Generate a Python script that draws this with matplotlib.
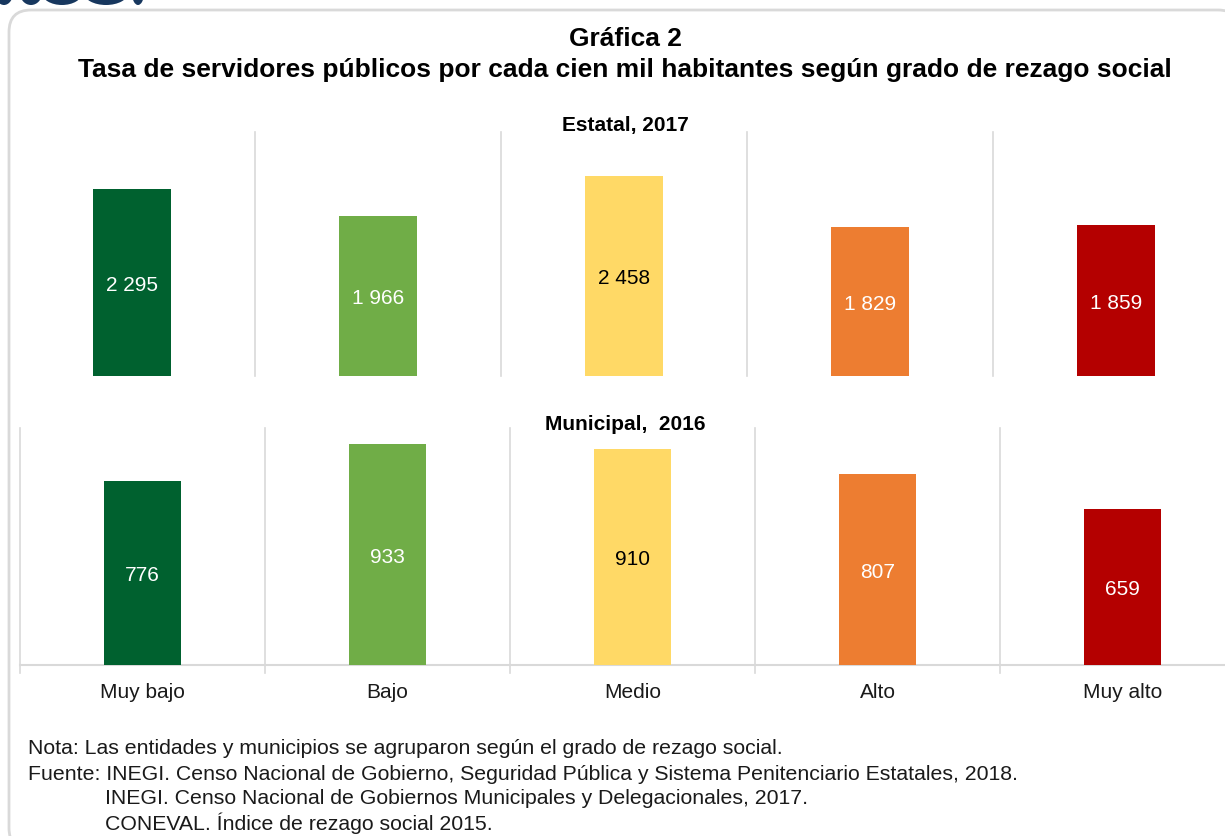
import numpy as np
import matplotlib.pyplot as plt
from matplotlib.patches import FancyBboxPatch, Ellipse

categorias = ['Muy bajo', 'Bajo', 'Medio', 'Alto', 'Muy alto']
estatal_2017 = [2295, 1966, 2458, 1829, 1859]
municipal_2016 = [776, 933, 910, 807, 659]
etiquetas_estatal = ['2 295', '1 966', '2 458', '1 829', '1 859']
etiquetas_municipal = ['776', '933', '910', '807', '659']

colores = ['#00612F', '#70AD47', '#FFD966', '#ED7D31', '#B40000']
color_texto = ['white', 'white', 'black', 'white', 'white']

W, H = 1225, 836
plt.rcParams.update({
    'font.family': ['Liberation Sans', 'DejaVu Sans'],
    'figure.dpi': 100,
})

fig = plt.figure(figsize=(W / 100, H / 100), dpi=100)

# capa de fondo en pixeles (marco, titulos, notas)
bg = fig.add_axes([0, 0, 1, 1], zorder=-1)
bg.set_xlim(0, W)
bg.set_ylim(H, 0)
bg.axis('off')

marco = FancyBboxPatch((9, 10), 1231, 840,
                       boxstyle='round,pad=0,rounding_size=22',
                       facecolor='white', edgecolor='#d9d9d9', linewidth=2)
bg.add_patch(marco)

# resto del logo cortado arriba a la izquierda
for cx, ancho in [(4, 18), (31, 22), (62, 40), (106, 44), (138, 12)]:
    bg.add_patch(Ellipse((cx, -7), ancho, 24, facecolor='#17375E', edgecolor='none'))

bg.text(625, 39, 'Gráfica 2', fontsize=19, fontweight='bold', ha='center', va='center')
bg.text(625, 70, 'Tasa de servidores públicos por cada cien mil habitantes según grado de rezago social',
        fontsize=19, fontweight='bold', ha='center', va='center')
bg.text(625, 126, 'Estatal, 2017', fontsize=15, fontweight='bold', ha='center', va='center')
bg.text(625, 425, 'Municipal,  2016', fontsize=15, fontweight='bold', ha='center', va='center')

notas = [
    (28, 749, 'Nota: Las entidades y municipios se agruparon según el grado de rezago social.'),
    (28, 775, 'Fuente: INEGI. Censo Nacional de Gobierno, Seguridad Pública y Sistema Penitenciario Estatales, 2018.'),
    (105, 799, 'INEGI. Censo Nacional de Gobiernos Municipales y Delegacionales, 2017.'),
    (105, 823, 'CONEVAL. Índice de rezago social 2015.'),
]
for x, y, t in notas:
    bg.text(x, y, t, fontsize=15.3, ha='left', va='center', color='#1a1a1a')


def panel(rect, valores, etiquetas, ymax, eje):
    ax = fig.add_axes(rect)
    ax.patch.set_alpha(0)
    x = np.arange(len(categorias))
    ax.bar(x, valores, width=0.315, color=colores, zorder=3)
    for xi, v, e, c in zip(x, valores, etiquetas, color_texto):
        ax.annotate(e, (xi, v / 2), xytext=(0, -2), textcoords='offset points',
                    ha='center', va='center', color=c, fontsize=15, zorder=4)
    for b in np.arange(-0.5, len(categorias) - 0.5, 1.0):
        ax.axvline(b, ymin=-0.035 if eje else 0, ymax=1, color='#d9d9d9',
                   linewidth=1.2, clip_on=False, zorder=1)
    ax.set_xlim(-0.5, len(categorias) - 0.5)
    ax.set_ylim(0, ymax)
    for s in ax.spines.values():
        s.set_visible(False)
    ax.set_yticks([])
    if eje:
        ax.axhline(0, color='#d9d9d9', linewidth=1.5, zorder=2, clip_on=False)
        ax.set_xticks(x)
        ax.set_xticklabels(categorias, fontsize=15, color='#1a1a1a')
        ax.tick_params(axis='x', length=0, pad=13)
    else:
        ax.set_xticks([])
    return ax


panel([9 / W, 1 - 376 / H, 1230 / W, 244 / H], estatal_2017, etiquetas_estatal, 3000, False)
panel([20 / W, 1 - 665 / H, 1225 / W, 237 / H], municipal_2016, etiquetas_municipal, 1000, True)

fig.savefig('out.png', dpi=100)
